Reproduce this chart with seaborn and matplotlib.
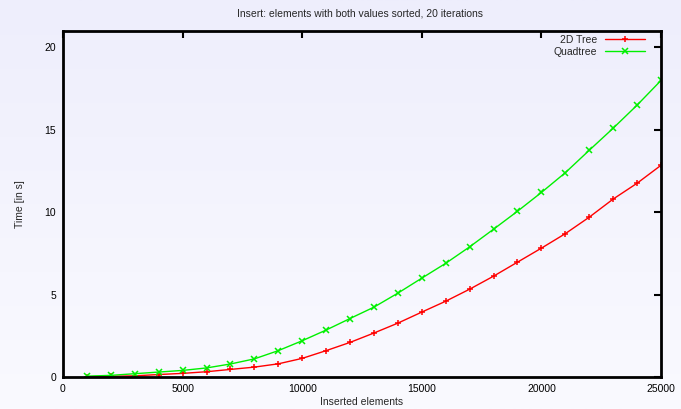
import numpy as np
import pandas as pd
import matplotlib
matplotlib.use("Agg")
import matplotlib.pyplot as plt
import seaborn as sns

# ---- data ----
elements = [1000, 2000, 3000, 4000, 5000, 6000, 7000, 8000, 9000, 10000,
            11000, 12000, 13000, 14000, 15000, 16000, 17000, 18000, 19000, 20000,
            21000, 22000, 23000, 24000, 25000]
tree2d = [0.02, 0.04, 0.07, 0.15, 0.22, 0.32, 0.46, 0.60, 0.80, 1.13,
          1.60, 2.10, 2.67, 3.27, 3.94, 4.60, 5.33, 6.12, 6.97, 7.82,
          8.70, 9.70, 10.80, 11.76, 12.85]
quadtree = [0.05, 0.10, 0.20, 0.30, 0.40, 0.55, 0.79, 1.10, 1.60, 2.20,
            2.85, 3.55, 4.24, 5.09, 6.00, 6.90, 7.90, 8.97, 10.06, 11.20,
            12.40, 13.76, 15.10, 16.50, 18.00]
series_names = ["2D Tree", "Quadtree"]
title = "Insert: elements with both values sorted, 20 iterations"
xlabel = "Inserted elements"
ylabel = "Time [in s]"
xticks = [0, 5000, 10000, 15000, 20000, 25000]
yticks = [0, 5, 10, 15, 20]

df = pd.DataFrame({
    "x": elements * 2,
    "y": tree2d + quadtree,
    "series": [series_names[0]] * len(elements) + [series_names[1]] * len(elements),
})

sns.set_theme(style="white")
plt.rcParams['font.family'] = ['Liberation Sans', 'DejaVu Sans']

fig = plt.figure(figsize=(6.81, 4.09), dpi=100)

# gradient background
bg = fig.add_axes([0, 0, 1, 1], zorder=-10)
top = np.array([238, 238, 252]) / 255
bot = np.array([250, 250, 255]) / 255
t = np.linspace(0, 1, 256)[:, None]
grad = top[None, :] * (1 - t) + bot[None, :] * t
bg.imshow(grad[:, None, :], aspect='auto', extent=[0, 1, 0, 1])
bg.set_axis_off()

ax = fig.add_axes([63 / 681, 1 - 377 / 409, (661 - 63) / 681, (377 - 31) / 409])
ax.patch.set_alpha(0)

palette = {series_names[0]: "#ff0000", series_names[1]: "#00f000"}
sns.lineplot(data=df, x="x", y="y", hue="series", style="series",
             markers={series_names[0]: "+", series_names[1]: "x"},
             dashes=False, palette=palette, ax=ax, linewidth=1.0,
             markersize=4.2, markeredgewidth=1.1, legend=True)

for ln in ax.get_lines():
    ln.set_markeredgecolor(ln.get_color())
    ln.set_markerfacecolor(ln.get_color())

ax.set_xlim(0, 25000)
ax.set_ylim(0, 21)
ax.set_xticks(xticks)
ax.set_yticks(yticks)
ax.set_xticklabels([str(v) for v in xticks])
ax.set_yticklabels([str(v) for v in yticks])
fs = 7.5
ax.tick_params(axis='both', direction='in', length=5, width=1.5, colors='black',
               labelsize=fs, top=True, right=True, pad=5, labelcolor='black')
for s in ax.spines.values():
    s.set_linewidth(2.0)
    s.set_color('black')

ax.set_xlabel(xlabel, fontsize=fs, labelpad=2)
ax.set_ylabel(ylabel, fontsize=fs, labelpad=14)
fig.text(360 / 681, 1 - 14 / 409, title, ha='center', va='center', fontsize=fs)

h, l = ax.get_legend_handles_labels()
for hd in h:
    hd.set_markeredgecolor(hd.get_color())
leg = ax.legend(h, l, loc='upper right', bbox_to_anchor=(645 / 681, 1 - 35 / 409),
                bbox_transform=fig.transFigure, frameon=False, markerfirst=False,
                fontsize=fs, handlelength=3.8, handletextpad=0.8, labelspacing=0.15,
                borderpad=0, borderaxespad=0)

fig.savefig("out.png", dpi=100)
